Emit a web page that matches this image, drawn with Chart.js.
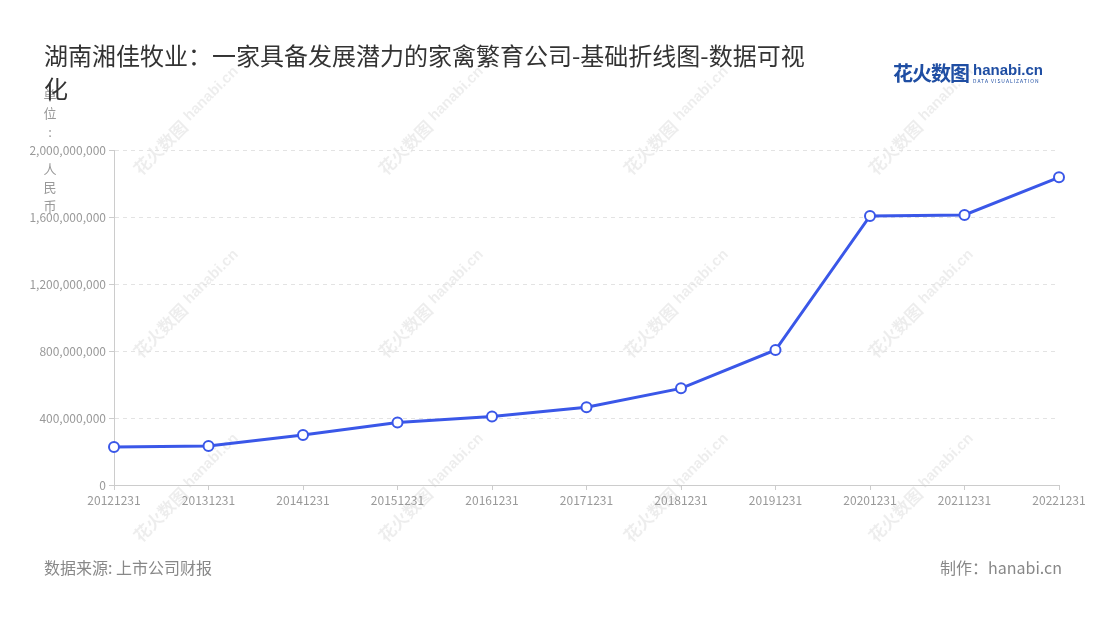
<!DOCTYPE html>
<html>
<head>
<meta charset="utf-8">
<script src="https://cdn.jsdelivr.net/npm/chart.js@4/dist/chart.umd.min.js"></script>
<style>
    html, body { margin: 0; padding: 0; background: #fff; }
    #wrap { position: relative; width: 1100px; height: 620px; overflow: hidden; font-family: "Noto Sans CJK SC", "Noto Sans", sans-serif; }
    #chart { position: absolute; left: 0; top: 0; }
    .title { position: absolute; left: 44px; top: 38px; width: 772px; font-size: 24px; line-height: 33px; color: #333; }
    .logo { position: absolute; left: 893px; top: 58px; color: #1f4ea3; white-space: nowrap; }
    .logo .cn { font-size: 20px; font-weight: bold; letter-spacing: -1px; vertical-align: top; }
    .logo .en { display: inline-block; margin-left: 4px; vertical-align: top; }
    .logo .en b { display: block; font-family: "Liberation Sans", sans-serif; font-size: 15px; line-height: 17px; margin-top: 3px; }
    .logo .en i { display: block; font-style: normal; font-size: 5px; line-height: 6px; letter-spacing: 1px; }
    .foot { position: absolute; top: 555px; font-size: 16px; line-height: 24px; color: #888; }
</style>
</head>
<body>
<div id="wrap">
    <canvas id="chart" width="1100" height="620"></canvas>
    <div class="title">湖南湘佳牧业：一家具备发展潜力的家禽繁育公司-基础折线图-数据可视化</div>
    <div class="logo"><span class="cn">花火数图</span><span class="en"><b>hanabi.cn</b><i>DATA VISUALIZATION</i></span></div>
    <div class="foot" style="left:44px;">数据来源: 上市公司财报</div>
    <div class="foot" style="right:38px;">制作：hanabi.cn</div>
</div>
<script>
// Chart data
const periods = ['20121231', '20131231', '20141231', '20151231', '20161231', '20171231',
                 '20181231', '20191231', '20201231', '20211231', '20221231'];
const amounts = [227000000, 233000000, 298000000, 373000000, 409000000, 464000000,
                 577000000, 806000000, 1606000000, 1612000000, 1837000000];
const yMax = 2000000000;
const yStep = 400000000;
const unitLabel = ['单', '位', ':', ' ', '人', '民', '币'];

const axisColor = '#cccccc';
const tickText = '#999999';
const lineBlue = '#3a57e8';

// faint diagonal watermarks behind the plot
const watermarkPlugin = {
    id: 'watermark',
    beforeDraw(chart) {
        const ctx = chart.ctx;
        ctx.save();
        ctx.fillStyle = 'rgba(0, 0, 0, 0.07)';
        ctx.textAlign = 'center';
        ctx.textBaseline = 'middle';
        [183, 428, 673, 918].forEach(cx => {
            [125, 308, 492].forEach(cy => {
                ctx.save();
                ctx.translate(cx, cy);
                ctx.rotate(-Math.PI / 4);
                ctx.font = 'bold 17px "Noto Sans CJK SC"';
                ctx.fillText('花火数图', -32, 0);
                ctx.font = 'bold 15px "Liberation Sans"';
                ctx.fillText('hanabi.cn', 42, -2);
                ctx.restore();
            });
        });
        ctx.restore();
    }
};

// vertical unit label next to the y axis
const unitPlugin = {
    id: 'unitLabel',
    afterDraw(chart) {
        const ctx = chart.ctx;
        ctx.save();
        ctx.fillStyle = '#999';
        ctx.font = '13px "Noto Sans CJK SC"';
        ctx.textAlign = 'center';
        ctx.textBaseline = 'middle';
        unitLabel.forEach((ch, i) => {
            ctx.fillText(ch, 50, 95 + i * 18.5);
        });
        ctx.restore();
    }
};

new Chart(document.getElementById('chart'), {
    type: 'line',
    data: {
        labels: periods,
        datasets: [{
            data: amounts,
            borderColor: lineBlue,
            borderWidth: 3,
            backgroundColor: '#fff',
            pointBackgroundColor: '#fff',
            pointBorderColor: lineBlue,
            pointBorderWidth: 2,
            pointRadius: 5,
            tension: 0,
            fill: false
        }]
    },
    options: {
        responsive: false,
        animation: false,
        layout: { padding: { left: 0, right: 41, top: 150, bottom: 105 } },
        plugins: {
            legend: { display: false },
            tooltip: { enabled: false }
        },
        scales: {
            x: {
                offset: false,
                afterFit: scale => { scale.height = 30; },
                border: { display: true, color: axisColor, width: 1 },
                grid: { drawOnChartArea: false, drawTicks: true, tickLength: 5, tickColor: axisColor },
                ticks: {
                    color: tickText,
                    padding: 3,
                    maxRotation: 0,
                    autoSkip: false,
                    font: { family: 'Noto Sans CJK SC', size: 12 }
                }
            },
            y: {
                min: 0,
                max: yMax,
                afterFit: scale => { scale.width = 114; },
                border: { display: true, color: axisColor, width: 1, dash: [4, 4] },
                grid: { color: '#e3e3e3', tickLength: 5, tickColor: axisColor, tickBorderDash: [] },
                ticks: {
                    stepSize: yStep,
                    color: tickText,
                    padding: 3,
                    font: { family: 'Noto Sans CJK SC', size: 12 },
                    callback: function(value) {
                        return value.toLocaleString('en-US');
                    }
                }
            }
        }
    },
    plugins: [watermarkPlugin, unitPlugin]
});
</script>
</body>
</html>
